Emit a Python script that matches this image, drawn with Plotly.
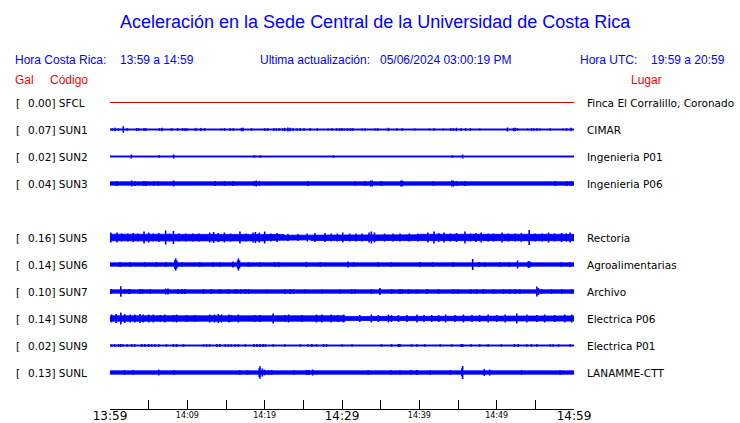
import plotly.graph_objects as go

# ---------------- data ----------------
title_text = "Aceleración en la Sede Central de la Universidad de Costa Rica"
hora_cr = "13:59 a 14:59"
hora_utc = "19:59 a 20:59"
actualizacion = "05/06/2024 03:00:19 PM"

codes = ["SFCL", "SUN1", "SUN2", "SUN3", "SUN5", "SUN6", "SUN7", "SUN8", "SUN9", "SUNL"]
gal = [0.00, 0.07, 0.02, 0.04, 0.16, 0.14, 0.10, 0.14, 0.02, 0.13]
places = ["Finca El Corralillo, Coronado", "CIMAR", "Ingenieria P01", "Ingenieria P06",
          "Rectoria", "Agroalimentarias", "Archivo", "Electrica P06", "Electrica P01",
          "LANAMME-CTT"]

tick_minutes = [0, 5, 10, 15, 20, 25, 30, 35, 40, 45, 50, 55, 60]
major_minutes = [0, 30, 60]
major_labels = ["13:59", "14:29", "14:59"]
minor_minutes = [10, 20, 40, 50]
minor_labels = ["14:09", "14:19", "14:39", "14:49"]

# envelope of background noise: start minute and half amplitude (relative units)
SFCL_env_t = [0];  SFCL_env_a = [0.0]
SUN1_env_t = [0];  SUN1_env_a = [0.6]
SUN2_env_t = [0];  SUN2_env_a = [0.6]
SUN3_env_t = [0];  SUN3_env_a = [1.7]
SUN5_env_t = [0, 8, 12, 14, 18, 20, 22.5, 26, 34, 40, 46, 56]
SUN5_env_a = [3.3, 3.0, 3.5, 3.0, 3.4, 3.0, 2.3, 3.0, 2.7, 3.2, 3.0, 3.2]
SUN6_env_t = [0];  SUN6_env_a = [1.7]
SUN7_env_t = [0];  SUN7_env_a = [1.7]
SUN8_env_t = [0, 30.4, 32.1];  SUN8_env_a = [2.7, 1.9, 2.6]
SUN9_env_t = [0];  SUN9_env_a = [0.6]
SUNL_env_t = [0];  SUNL_env_a = [1.7]

# peaks: minute after 13:59 and half amplitude (relative units)
SFCL_t = []; SFCL_a = []
SUN1_t = [0.3, 0.65, 1.08, 1.72, 2.24, 3.45, 3.75, 4.4, 4.66, 6.38, 6.72, 7.97, 8.75, 9.4, 9.7,
          9.96, 11.08, 11.72, 12.24, 14.4, 14.83, 15.52, 15.95, 17.0, 17.2, 18.3, 20.0, 20.4,
          21.2, 21.5, 21.85, 22.3, 22.6, 23.0, 23.3, 23.7, 24.2, 24.6, 25.1, 25.9, 26.8, 28.2,
          28.7, 29.3, 29.7, 30.0, 30.3, 30.7, 31.1, 31.4, 32.6, 33.0, 34.3, 34.6, 36.0, 37.1,
          37.8, 39.4, 41.3, 41.9, 43.1, 44.05, 44.4, 44.8, 45.4, 46.0, 46.6, 47.8, 51.4, 52.2,
          52.4, 52.7, 54.0, 54.5, 54.8, 55.2, 55.6, 56.9, 58.6, 59.05, 59.6]
SUN1_a = [1.3, 1.7, 1.3, 3.3, 1.3, 1.5, 1.3, 1.6, 1.3, 1.3, 1.7, 1.3, 1.3, 1.3, 1.3,
          1.3, 1.6, 1.6, 1.3, 1.0, 1.3, 1.3, 1.3, 1.7, 1.7, 1.3, 1.3, 1.3,
          1.3, 1.3, 1.3, 1.3, 1.7, 2.0, 1.8, 1.6, 1.3, 1.3, 1.3, 1.3, 1.3, 1.0,
          1.3, 1.3, 1.3, 1.3, 1.0, 1.3, 1.3, 1.3, 1.0, 1.3, 1.0, 1.3, 1.7, 1.3,
          1.3, 1.0, 1.0, 1.3, 1.0, 1.3, 1.3, 1.7, 1.3, 1.3, 1.3, 1.0, 2.0, 1.7,
          1.7, 1.3, 1.0, 1.3, 1.3, 1.3, 1.0, 1.3, 1.0, 1.3, 1.7]
SUN2_t = [2.76, 6.38, 8.23, 18.66, 19.44, 28.9, 44.3, 45.6]
SUN2_a = [2.0, 1.2, 2.0, 1.2, 1.2, 1.2, 1.2, 2.0]
SUN3_t = [0.86, 2.8, 3.23, 4.35, 4.66, 5.65, 6.25, 8.23, 13.6, 14.8, 15.9, 18.6, 18.9, 19.3,
          25.6, 31.7, 33.0, 33.7, 33.9, 35.1, 37.6, 37.8, 41.8, 44.2, 44.4, 44.8, 45.9, 57.6,
          59.05, 59.6]
SUN3_a = [2.5, 3.0, 2.5, 2.5, 2.5, 2.3, 2.3, 3.0, 2.5, 2.5, 2.5, 2.5, 3.0, 2.5,
          2.5, 2.3, 2.5, 3.0, 3.0, 2.5, 3.0, 3.0, 2.3, 3.0, 3.0, 2.5, 2.5, 2.5,
          2.5, 2.5]
SUN5_t = [0.1, 0.9, 1.5, 2.3, 3.0, 3.6, 4.4, 5.0, 5.6, 6.3, 7.2, 7.7, 8.2, 8.9, 9.8, 10.7, 11.5,
          12.9, 13.4, 14.0, 14.8, 15.6, 16.8, 17.6, 18.5, 18.8, 19.3, 20.0, 20.8, 21.6, 23.0,
          24.3, 25.5, 26.5, 27.8, 28.6, 29.4, 30.1, 31.0, 31.8, 32.6, 33.5, 33.8, 34.2, 35.5,
          36.6, 37.5, 38.7, 39.8, 41.1, 41.9, 42.5, 43.2, 44.0, 44.8, 45.9, 46.6, 47.3, 48.0,
          48.9, 49.6, 50.7, 51.5, 52.4, 53.2, 54.2, 55.0, 55.9, 56.7, 57.5, 58.4, 59.0, 59.5]
SUN5_a = [5.0, 5.0, 4.0, 4.0, 4.5, 4.0, 6.0, 5.0, 4.0, 4.5, 7.0, 4.0, 6.5, 4.0, 4.0, 4.0, 4.0,
          5.0, 5.5, 4.5, 5.0, 4.0, 6.0, 4.0, 5.0, 5.5, 5.0, 6.0, 4.0, 4.5, 3.5,
          3.5, 4.0, 4.5, 4.5, 4.0, 4.0, 5.0, 4.0, 4.0, 4.0, 5.0, 6.0, 5.0, 4.0,
          4.0, 4.0, 4.0, 4.0, 5.0, 6.0, 4.5, 5.0, 4.0, 4.5, 6.0, 4.0, 4.5, 5.0,
          4.0, 4.0, 5.0, 4.0, 4.0, 4.5, 7.5, 4.0, 4.0, 5.0, 4.0, 4.5, 4.0, 5.0]
SUN6_t = [1.3, 2.6, 4.5, 6.0, 7.2, 8.4, 8.5, 8.65, 9.3, 11.6, 13.3, 14.2, 15.9, 16.5, 16.6, 16.75,
          17.9, 19.4, 21.3, 21.8, 25.4, 27.2, 30.8, 31.5, 34.7, 36.4, 40.1, 41.7, 44.4, 46.9,
          47.7, 48.5, 50.4, 51.6, 52.7, 54.1, 54.3, 58.3, 59.5]
SUN6_a = [2.5, 2.3, 2.3, 2.5, 2.3, 4.5, 6.0, 4.0, 2.3, 2.5, 2.3, 2.3, 3.0, 4.0, 6.0, 4.0,
          2.3, 2.3, 2.5, 2.5, 2.7, 2.5, 3.0, 2.3, 2.3, 2.3, 2.5, 2.3, 2.3, 5.5,
          2.5, 2.3, 2.3, 2.3, 4.0, 3.5, 3.0, 2.3, 2.5]
SUN7_t = [0.13, 1.4, 1.9, 2.4, 2.6, 3.9, 4.2, 5.2, 7.2, 7.5, 8.75, 9.3, 9.7, 12.1, 13.1, 14.2,
          15.3, 16.3, 16.9, 17.5, 17.9, 20.3, 22.6, 23.3, 23.7, 25.2, 27.4, 29.7, 31.25, 31.7,
          33.8, 34.9, 36.4, 37.5, 37.8, 38.6, 39.7, 41.0, 42.5, 44.4, 45.0, 46.7, 47.4, 48.3,
          49.6, 50.9, 51.7, 52.4, 53.0, 55.2, 55.4, 55.8, 57.1, 58.4, 59.7]
SUN7_a = [2.5, 5.3, 2.5, 2.5, 2.5, 2.5, 2.5, 2.3, 3.0, 3.0, 2.5, 2.5, 2.5, 2.5, 2.5, 2.3,
          2.3, 2.3, 2.3, 2.3, 2.3, 2.0, 2.3, 2.5, 2.3, 2.0, 2.0, 2.0, 2.3, 2.3,
          2.3, 3.5, 2.3, 2.5, 2.3, 2.3, 2.0, 2.5, 2.3, 2.3, 2.3, 2.3, 2.3, 2.5,
          2.3, 2.3, 2.3, 2.3, 2.3, 5.0, 3.5, 2.3, 2.3, 2.3, 2.3]
SUN8_t = [0.2, 0.8, 1.4, 1.9, 2.6, 3.2, 3.9, 4.3, 5.0, 5.6, 6.5, 7.1, 8.2, 8.6, 9.9, 11.0, 12.9,
          13.5, 14.0, 14.4, 15.4, 15.7, 16.6, 18.7, 19.4, 21.1, 22.6, 23.1, 24.8, 26.7, 27.4,
          28.6, 29.5, 30.2, 32.3, 33.8, 34.7, 36.0, 36.4, 37.3, 38.4, 39.7, 40.6, 41.6, 42.5,
          43.4, 44.6, 45.7, 46.8, 47.8, 48.9, 50.0, 51.1, 52.6, 53.9, 55.2, 56.2, 57.5, 58.8,
          59.7]
SUN8_a = [4.0, 4.5, 6.0, 4.5, 4.0, 4.0, 4.5, 4.0, 4.0, 4.0, 3.5, 4.0, 3.5, 4.0, 3.5, 3.5, 4.0,
          4.0, 4.5, 4.0, 4.0, 3.5, 4.0, 3.5, 3.5, 5.0, 3.5, 4.0, 3.5, 4.0, 4.0,
          4.0, 3.5, 4.0, 3.5, 4.0, 3.5, 4.0, 3.5, 3.5, 3.5, 4.0, 3.5, 3.5, 3.5,
          4.0, 3.5, 4.0, 3.5, 3.5, 4.0, 3.5, 4.0, 5.0, 4.0, 3.5, 4.0, 3.5, 4.0,
          4.0]
SUN9_t = [0.2, 0.6, 1.1, 1.4, 1.7, 2.2, 2.8, 3.2, 4.1, 4.5, 5.0, 5.4, 5.8, 6.3, 7.3, 8.2, 8.6,
          9.5, 12.1, 12.5, 12.9, 13.8, 14.2, 14.9, 15.3, 15.7, 16.2, 16.6, 17.5, 18.6, 19.0,
          19.4, 19.8, 20.1, 21.1, 22.6, 24.6, 25.6, 26.1, 26.7, 27.6, 28.0, 30.0, 31.3, 35.1,
          36.4, 37.3, 37.5, 39.0, 39.7, 40.7, 42.7, 44.2, 45.4, 45.6, 46.7, 47.8, 48.9, 50.6,
          52.3, 52.8, 53.9, 54.5, 55.2, 56.9, 57.3, 58.0, 59.5]
SUN9_a = [1.3, 1.5, 1.5, 1.5, 1.3, 1.3, 1.5, 1.3, 1.5, 1.5, 1.5, 1.3, 1.3, 1.3, 1.3, 1.5, 1.5,
          1.3, 1.3, 1.3, 1.3, 1.5, 1.5, 1.3, 1.3, 1.3, 1.3, 1.3, 1.3, 1.5, 1.5,
          1.5, 1.5, 1.3, 1.3, 1.3, 1.3, 1.3, 1.5, 1.3, 1.5, 1.3, 1.3, 1.3, 1.3,
          1.3, 1.5, 1.5, 1.3, 1.3, 1.3, 1.3, 1.3, 1.5, 1.5, 1.3, 1.3, 1.3, 1.3,
          1.5, 1.5, 1.3, 1.3, 1.3, 1.3, 1.3, 1.3, 1.3]
SUNL_t = [1.9, 3.0, 6.3, 8.3, 16.8, 17.8, 19.3, 19.4, 19.7, 20.0, 20.5, 20.9, 23.8, 25.4, 25.7,
          26.2, 33.4, 36.3, 37.5, 38.9, 39.7, 41.4, 44.0, 45.5, 45.6, 48.4, 49.1, 53.2, 58.2]
SUNL_a = [2.3, 2.3, 3.0, 2.5, 2.3, 2.3, 4.5, 6.2, 4.0, 2.8, 2.5, 2.5, 2.3, 2.5, 2.5,
          3.0, 2.3, 2.3, 2.3, 2.3, 2.5, 2.3, 2.3, 4.0, 6.5, 3.5, 3.0, 2.3, 2.3]

env_t = [SFCL_env_t, SUN1_env_t, SUN2_env_t, SUN3_env_t, SUN5_env_t, SUN6_env_t, SUN7_env_t,
         SUN8_env_t, SUN9_env_t, SUNL_env_t]
env_a = [SFCL_env_a, SUN1_env_a, SUN2_env_a, SUN3_env_a, SUN5_env_a, SUN6_env_a, SUN7_env_a,
         SUN8_env_a, SUN9_env_a, SUNL_env_a]
peak_t = [SFCL_t, SUN1_t, SUN2_t, SUN3_t, SUN5_t, SUN6_t, SUN7_t, SUN8_t, SUN9_t, SUNL_t]
peak_a = [SFCL_a, SUN1_a, SUN2_a, SUN3_a, SUN5_a, SUN6_a, SUN7_a, SUN8_a, SUN9_a, SUNL_a]

# ---------------- layout helpers ----------------
W, H = 740, 423
PL, PR, PT, PB = 110, 574, 89, 409          # plot area in pixels
ROW0, ROWSTEP = 102.5, 27                   # pixel of first row and row spacing
slots = [0, 1, 2, 3, 5, 6, 7, 8, 9, 10]     # SUN4 slot left empty
AMP = 1.0 / ROWSTEP                          # amplitude unit -> row units
BLUE = "#0000ff"
RED = "#ff0000"
T_END = 60


def px_x(p):
    return (p - PL) / (PR - PL)


def px_y(p):
    return (PB - p) / (PB - PT)


fig = go.Figure()

for i, code in enumerate(codes):
    c = slots[i]
    if code == "SFCL":
        fig.add_trace(go.Scatter(x=[0, T_END], y=[c, c], mode="lines",
                                 line=dict(color="#d00000", width=1),
                                 hoverinfo="skip", showlegend=False))
        continue
    # envelope band (step shaped)
    ts = env_t[i] + [T_END]
    xs_up, ys_up = [], []
    for k, a in enumerate(env_a[i]):
        xs_up += [ts[k], ts[k + 1]]
        ys_up += [c - a * AMP, c - a * AMP]
    xs_lo = []
    ys_lo = []
    for k in range(len(env_a[i]) - 1, -1, -1):
        a = env_a[i][k]
        xs_lo += [ts[k + 1], ts[k]]
        ys_lo += [c + a * AMP, c + a * AMP]
    fig.add_trace(go.Scatter(x=xs_up + xs_lo, y=ys_up + ys_lo, mode="lines",
                             fill="toself", fillcolor=BLUE,
                             line=dict(color=BLUE, width=0.8),
                             hoverinfo="skip", showlegend=False))
    # peaks
    xs, ys = [], []
    for t, a in zip(peak_t[i], peak_a[i]):
        xs += [t, t, None]
        ys += [c - a * AMP, c + a * AMP, None]
    if xs:
        fig.add_trace(go.Scatter(x=xs, y=ys, mode="lines",
                                 line=dict(color=BLUE, width=1.6),
                                 hoverinfo="skip", showlegend=False))

# dummy trace for secondary label axis
fig.add_trace(go.Scatter(x=[0, T_END], y=[-5, -5], mode="lines", xaxis="x2",
                         line=dict(width=0), hoverinfo="skip", showlegend=False))

major_text = []
for m in tick_minutes:
    major_text.append(major_labels[major_minutes.index(m)] if m in major_minutes else "")

y_top = (PT - ROW0) / ROWSTEP
y_bot = (PB - ROW0) / ROWSTEP

ann = []
ann.append(dict(x=px_x(375), y=px_y(22), xref="paper", yref="paper", text=title_text,
                showarrow=False, xanchor="center", yanchor="middle",
                font=dict(family="Liberation Sans", size=18, color=BLUE)))


def txt(x, y, s, color, size=12, family="Liberation Sans", anchor="left"):
    ann.append(dict(x=px_x(x), y=px_y(y), xref="paper", yref="paper", text=s,
                    showarrow=False, xanchor=anchor, yanchor="middle",
                    font=dict(family=family, size=size, color=color)))


txt(13, 60.5, "Hora Costa Rica:", BLUE)
txt(118, 60.5, hora_cr, BLUE)
txt(258, 60.5, "Ultima actualización:", BLUE)
txt(378, 60.5, actualizacion, BLUE)
txt(578, 60.5, "Hora UTC:", BLUE)
txt(648.5, 60.5, hora_utc, BLUE)
txt(13, 80.5, "Gal", RED)
txt(48, 80.5, "Código", RED)
txt(628.5, 80.5, "Lugar", RED)

for i, code in enumerate(codes):
    py = ROW0 + 0.5 + ROWSTEP * slots[i]
    txt(13.5, py, "[", "black", 10.5, "DejaVu Sans")
    txt(26, py, f"{gal[i]:.2f}] {code}", "black", 10.5, "DejaVu Sans")
    txt(584.5, py, places[i], "black", 10.5, "DejaVu Sans")

fig.update_layout(
    width=W, height=H,
    margin=dict(l=PL, r=W - PR, t=PT, b=H - PB, pad=0),
    paper_bgcolor="white", plot_bgcolor="white",
    showlegend=False,
    xaxis=dict(range=[0, T_END], showgrid=False, zeroline=False, showline=True,
               linecolor="black", linewidth=1, ticks="inside", ticklen=9,
               tickcolor="black", tickwidth=1, tickvals=tick_minutes, ticktext=major_text,
               tickfont=dict(family="DejaVu Sans", size=12, color="black"),
               ticklabelstandoff=-4,
               automargin=False, fixedrange=True),
    xaxis2=dict(range=[0, T_END], overlaying="x", anchor="y", side="bottom",
                showgrid=False, zeroline=False, showline=False, ticks="",
                tickvals=minor_minutes, ticktext=minor_labels,
                tickfont=dict(family="DejaVu Sans", size=8, color="black"),
                automargin=False, fixedrange=True),
    yaxis=dict(range=[y_bot, y_top], visible=False, fixedrange=True),
    annotations=ann,
)

fig.write_html("out.html", config={"displayModeBar": False},
               post_script="document.body.style.margin='0px';")
